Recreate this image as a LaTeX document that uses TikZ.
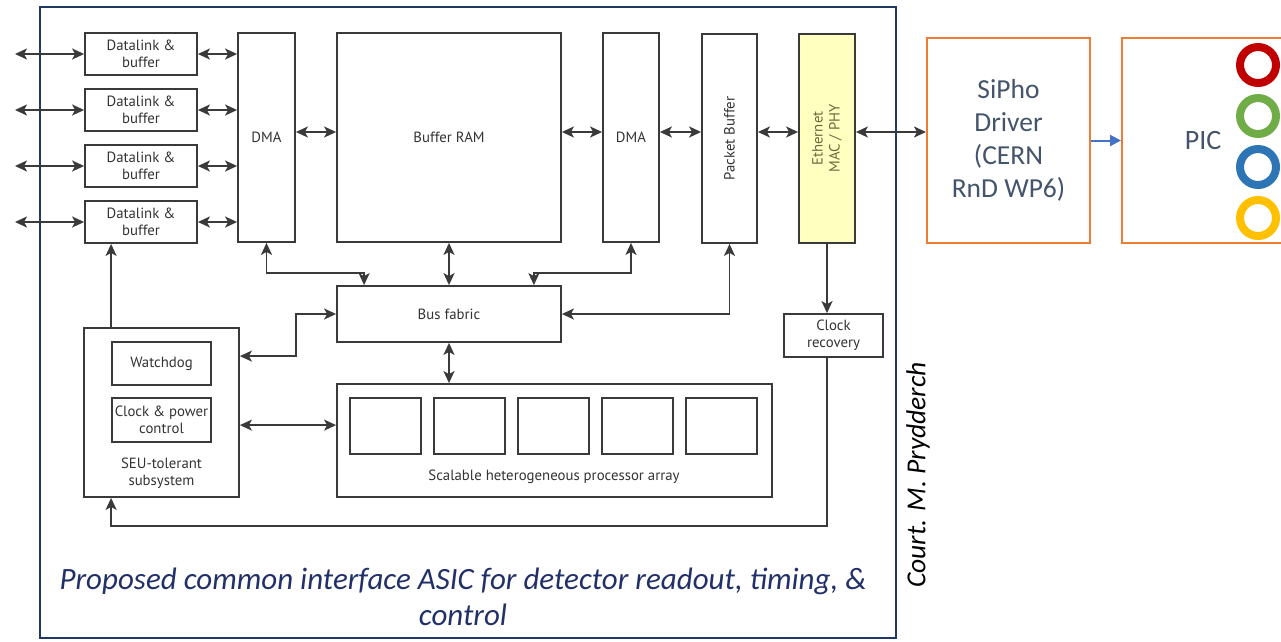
\documentclass[tikz,border=0pt]{standalone}
\usepackage{fontspec}
\setmainfont{Carlito}
\newfontfamily\diagfont{PT Sans}
\usetikzlibrary{arrows.meta}
\definecolor{navy}{HTML}{1F3864}
\definecolor{capnavy}{HTML}{22306A}
\definecolor{gline}{HTML}{3A3A3A}
\definecolor{gtext}{HTML}{333333}
\definecolor{orng}{HTML}{ED7D31}
\definecolor{slate}{HTML}{44546A}
\definecolor{ethfill}{HTML}{FFFFC0}
\definecolor{ethtext}{HTML}{6A6A40}
\definecolor{arrblue}{HTML}{4472C4}
\definecolor{ringred}{HTML}{C00000}
\definecolor{ringgreen}{HTML}{70AD47}
\definecolor{ringblue}{HTML}{2E75B6}
\definecolor{ringyellow}{HTML}{FFC000}
\tikzset{
  dfont/.style={font=\diagfont\fontsize{14.8}{17}\selectfont},
  box/.style={draw=gline, line width=1.8pt, inner sep=0pt, align=center, text=gtext, dfont},
  conn/.style={draw=gline, line width=1.8pt},
  dbl/.style={conn, {Stealth[length=12pt,width=11pt,inset=3pt]}-{Stealth[length=12pt,width=11pt,inset=3pt]}},
  one/.style={conn, -{Stealth[length=12pt,width=11pt,inset=3pt]}},
  obox/.style={draw=orng, line width=2pt, inner sep=0pt, align=center, text=slate,
    font=\fontsize{27.5}{33}\selectfont},
  ring/.style={line width=8pt},
}
\begin{document}
\begin{tikzpicture}[x=1pt,y=-1pt]
\useasboundingbox (0,0) rectangle (1281,641);
\clip (0,0) rectangle (1281,641);

% outer frame
\node[draw=navy, line width=2pt, minimum width=856pt, minimum height=631pt, inner sep=0pt] (frame) at (468,322.5) {};

% datalinks
\node[box, minimum width=112pt, minimum height=42pt] (dl1) at (141,54) {Datalink \&\\buffer};
\node[box, minimum width=112pt, minimum height=42pt] (dl2) at (141,110) {Datalink \&\\buffer};
\node[box, minimum width=112pt, minimum height=42pt] (dl3) at (141,166) {Datalink \&\\buffer};
\node[box, minimum width=112pt, minimum height=42pt] (dl4) at (141,222) {Datalink \&\\buffer};

\coordinate (e1) at (15,54);
\coordinate (e2) at (15,110);
\coordinate (e3) at (15,166);
\coordinate (e4) at (15,222);

% top row
\node[box, minimum width=57pt, minimum height=209pt] (dma1) at (266.5,137.5) {DMA};
\node[box, minimum width=224pt, minimum height=209pt] (ram) at (449,137.5) {Buffer RAM};
\node[box, minimum width=56pt, minimum height=209pt] (dma2) at (631,137.5) {DMA};
\node[box, minimum width=55pt, minimum height=209pt] (pb) at (729.5,138.5) {};
\node[rotate=90, text=gtext, dfont] (pbt) at (pb) {Packet Buffer};
\node[box, fill=ethfill, minimum width=56pt, minimum height=209pt] (eth) at (827,138.5) {};
\node[rotate=90, align=center, text=ethtext, dfont] (etht) at (eth) {Ethernet\\MAC / PHY};

% middle
\node[box, minimum width=224pt, minimum height=56pt] (bus) at (449,314) {Bus fabric};
\node[box, minimum width=99pt, minimum height=43pt] (clk) at (833.5,335.5) {Clock\\recovery};

% SEU subsystem
\node[box, minimum width=155pt, minimum height=169pt] (seu) at (161.5,412.5) {};
\node[box, minimum width=99pt, minimum height=43pt] (wd) at (161.5,363.5) {Watchdog};
\node[box, minimum width=99pt, minimum height=44pt] (cp) at (161.5,420) {Clock \& power\\control};
\node[align=center, text=gtext, dfont] (seut) at (161.5,473) {SEU-tolerant\\subsystem};

% processor array
\node[box, minimum width=435pt, minimum height=113pt] (proc) at (554.5,440.5) {};
\node[box, minimum width=71pt, minimum height=56pt] (p1) at (385.5,426) {};
\node[box, minimum width=71pt, minimum height=56pt] (p2) at (469.5,426) {};
\node[box, minimum width=71pt, minimum height=56pt] (p3) at (553.5,426) {};
\node[box, minimum width=71pt, minimum height=56pt] (p4) at (637.5,426) {};
\node[box, minimum width=71pt, minimum height=56pt] (p5) at (721.5,426) {};
\node[text=gtext, dfont] (proct) at (554,477) {Scalable heterogeneous processor array};

% right side
\node[obox, minimum width=163pt, minimum height=205pt] (sipho) at (1008.5,140.5) {SiPho\\Driver\\(CERN\\RnD WP6)};
\node[obox, minimum width=178pt, minimum height=205pt] (pic) at (1211,140.5) {};
\node[text=slate, font=\fontsize{28}{30}\selectfont] (pict) at (1203,141) {PIC};
\draw[ring, ringred] (1258,65) circle[radius=18pt];
\draw[ring, ringgreen] (1258,116) circle[radius=18pt];
\draw[ring, ringblue] (1258,167) circle[radius=18pt];
\draw[ring, ringyellow] (1258,218) circle[radius=18pt];

% captions
\node[align=center, text=capnavy, font=\itshape\fontsize{31}{36}\selectfont] (cap) at (463,597)
  {Proposed common interface ASIC for detector readout, timing, \&\\control};
\node[rotate=90, text=black, font=\itshape\fontsize{27.5}{30}\selectfont] (court) at (918,475) {Court. M. Prydderch};

% connectors: datalinks
\foreach \i in {1,2,3,4} {
  \draw[dbl] (e\i) -- (dl\i.west);
  \draw[dbl] (dl\i.east) -- (dl\i.east -| dma1.west);
}
% top row horizontal
\draw[dbl] ([yshift=5.5pt]dma1.east) -- ([yshift=5.5pt]dma1.east -| ram.west);
\draw[dbl] ([yshift=5.5pt]ram.east) -- ([yshift=5.5pt]ram.east -| dma2.west);
\draw[dbl] ([yshift=5.5pt]dma2.east) -- ([yshift=5.5pt]dma2.east -| pb.west);
\draw[dbl] ([yshift=6.5pt]pb.east) -- ([yshift=6.5pt]pb.east -| eth.west);
\draw[dbl] ([yshift=6.5pt]eth.east) -- ([yshift=6.5pt]eth.east -| sipho.west);
\draw[draw=arrblue, line width=2pt, -{Triangle[length=11pt,width=11pt]}] (sipho.east) -- (pic.west);

% to bus fabric
\draw[dbl] (dma1.south) -- ++(0,30) -| ([xshift=28pt]bus.north west);
\draw[dbl] (ram.south) -- (ram.south |- bus.north);
\draw[dbl] (dma2.south) -- ++(0,30) -| ([xshift=-28pt]bus.north east);
\draw[dbl] (pb.south) |- (bus.east);
\draw[dbl] ([yshift=-29pt]seu.north east) -- ++(56,0) |- (bus.west);
\draw[dbl] ([yshift=-98pt]seu.north east) -- ([yshift=-98pt]seu.north east -| proc.west);
\draw[dbl] (bus.south) -- (bus.south |- proc.north);

% clock path
\draw[one] (eth.south) -- (eth.south |- clk.north);
\draw[one] (eth.south |- clk.south) |- ([xshift=28pt,yshift=-28pt]seu.south west) -- ([xshift=28pt]seu.south west);
\draw[one] ([xshift=28pt]seu.north west) -- ([xshift=28pt]seu.north west |- dl4.south);
\end{tikzpicture}
\end{document}
